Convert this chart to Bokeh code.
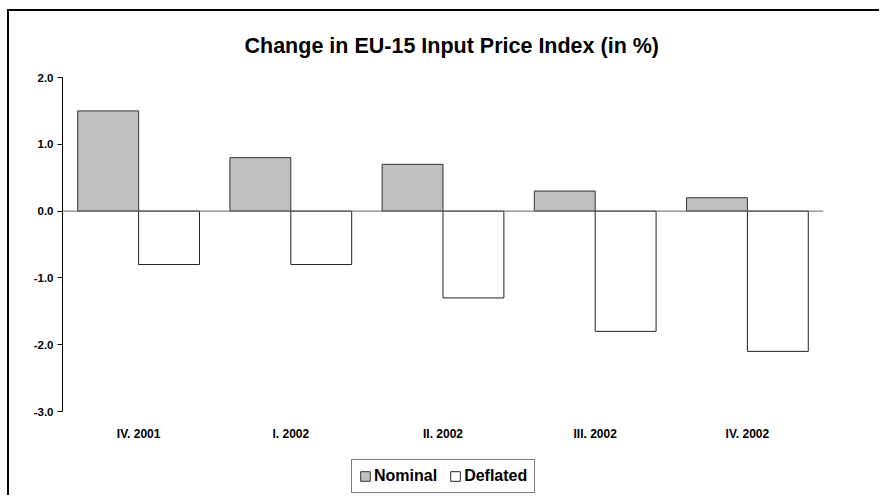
from bokeh.plotting import figure
from bokeh.models import (FactorRange, Range1d, Span, Legend, LegendItem,
                          FixedTicker, ColumnDataSource)
from bokeh.core.properties import value
from bokeh.transform import dodge
from bokeh.embed import file_html
from bokeh.resources import INLINE

quarters = ["IV. 2001", "I. 2002", "II. 2002", "III. 2002", "IV. 2002"]
nominal = [1.5, 0.8, 0.7, 0.3, 0.2]
deflated = [-0.8, -0.8, -1.3, -1.8, -2.1]
y_ticks = [-3, -2, -1, 0, 1, 2]
y_labels = {-3: "-3.0", -2: "-2.0", -1: "-1.0", 0: "0.0", 1: "1.0", 2: "2.0"}

src = ColumnDataSource(dict(q=quarters, nominal=nominal, deflated=deflated))

FONT = "Liberation Sans"

# layout constants (pixels)
PX_PER_UNIT = 66.8
FRAME_H = 420
Y_TOP = 2.0
Y_BOTTOM = Y_TOP - FRAME_H / PX_PER_UNIT   # frame extends below the axis for labels/legend
LABEL_Y = Y_TOP - 356 / PX_PER_UNIT

p = figure(width=872, height=486, x_range=FactorRange(*quarters, range_padding=0),
           y_range=Range1d(Y_BOTTOM, Y_TOP), output_backend="svg", toolbar_location=None,
           x_axis_location=None,
           min_border_left=53, min_border_right=58, min_border_top=66,
           min_border_bottom=0, title="Change in EU-15 Input Price Index (in %)")
p.margin = (9, 0, 0, 7)
p.styles = {"border-top": "2px solid #000", "border-left": "2px solid #000"}

p.title.align = "left"
p.title.offset = 182
p.title.text_font = FONT
p.title.text_font_size = "21.5px"
p.title.text_font_style = "bold"
p.title.text_color = "#000000"
p.title.standoff = 40

p.outline_line_color = None
p.xgrid.grid_line_color = None
p.ygrid.grid_line_color = None

r1 = p.vbar(x=dodge("q", -0.2, range=p.x_range), top="nominal", bottom=0, width=0.4,
            source=src, fill_color="#C0C0C0", line_color="#333333", line_width=1)
r2 = p.vbar(x=dodge("q", 0.2, range=p.x_range), top=0, bottom="deflated", width=0.4,
            source=src, fill_color="#FFFFFF", line_color="#222222", line_width=1)

p.add_layout(Span(location=0, dimension="width", line_color="#666666", line_width=1))

# category labels below the plotting area
p.text(x=quarters, y=[LABEL_Y] * len(quarters), text=quarters,
       text_font=value(FONT), text_font_style="bold", text_font_size="12px",
       text_color="#000000", text_align="center", text_baseline="middle")

ya = p.yaxis[0]
ya.ticker = FixedTicker(ticks=y_ticks)
ya.bounds = (y_ticks[0], y_ticks[-1])
ya.major_label_overrides = y_labels
ya.minor_tick_line_color = None
ya.major_tick_in = 0
ya.major_tick_out = 5
ya.axis_line_color = "#000000"
ya.major_tick_line_color = "#000000"
ya.major_label_text_font = FONT
ya.major_label_text_font_style = "bold"
ya.major_label_text_font_size = "11.5px"
ya.major_label_text_color = "#000000"
ya.major_label_standoff = 4

legend = Legend(items=[LegendItem(label="Nominal", renderers=[r1]),
                       LegendItem(label="Deflated", renderers=[r2])],
                orientation="horizontal", location=(289, 4))
legend.label_text_font = FONT
legend.label_text_font_style = "bold"
legend.label_text_font_size = "16px"
legend.label_text_color = "#000000"
legend.glyph_width = 12
legend.glyph_height = 12
legend.label_standoff = 3
legend.spacing = 12
legend.padding = 7
legend.margin = 0
legend.border_line_color = "#000000"
legend.border_line_width = 1
legend.background_fill_alpha = 1
p.add_layout(legend, "center")

open("out.html", "w").write(file_html(p, INLINE))
